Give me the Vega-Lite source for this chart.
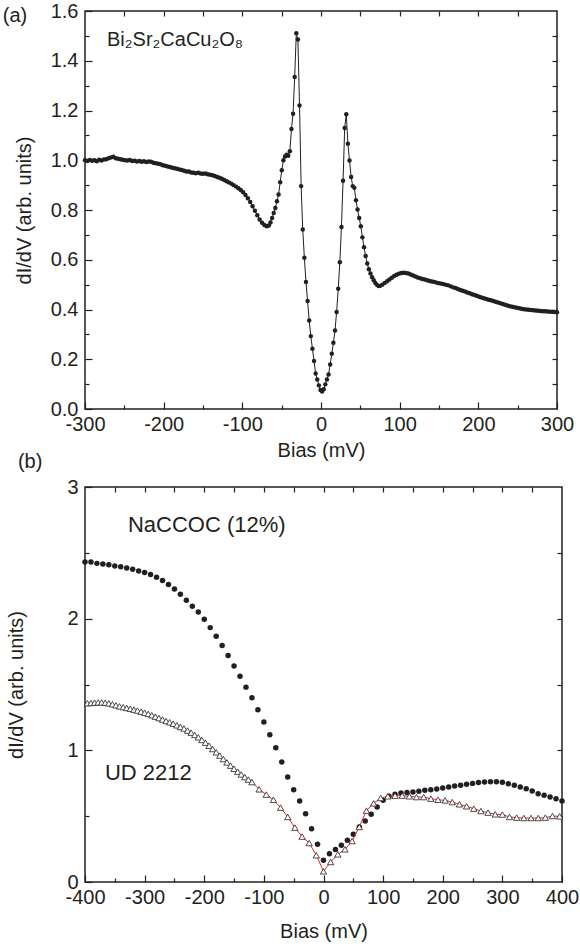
{
  "$schema": "https://vega.github.io/schema/vega-lite/v6.json",
  "background": "white",
  "padding": {"left": 2, "top": 0, "right": 5, "bottom": 0},
  "spacing": -10,
  "config": {
    "font": "Liberation Sans",
    "view": {"stroke": "#231f20", "strokeWidth": 1.5},
    "axis": {"grid": false, "domain": false, "tickColor": "#231f20", "labelColor": "#231f20", "titleColor": "#231f20", "labelFontSize": 20, "titleFontSize": 20, "titleFontWeight": "normal", "labelFlush": false, "labelOverlap": false, "tickWidth": 1.2, "labelExpr": "replace(datum.label, '−', '-')"}
  },
  "datasets": {
    "bscco": [
      {"v":-300,"g":1.000},{"v":-297,"g":0.997},{"v":-294,"g":1.001},{"v":-291,"g":0.998},{"v":-288,"g":1.000},{"v":-285,"g":0.996},{"v":-282,"g":1.002},{"v":-279,"g":0.999},{"v":-276,"g":1.003},{"v":-273,"g":1.004},{"v":-270,"g":1.008},{"v":-267,"g":1.011},{"v":-264,"g":1.014},{"v":-261,"g":1.008},{"v":-258,"g":1.006},{"v":-255,"g":1.004},{"v":-252,"g":1.002},{"v":-249,"g":1.000},{"v":-246,"g":0.999},{"v":-243,"g":1.001},{"v":-240,"g":0.997},{"v":-237,"g":0.998},{"v":-234,"g":0.995},{"v":-231,"g":0.997},{"v":-228,"g":0.994},{"v":-225,"g":0.996},{"v":-222,"g":0.993},{"v":-219,"g":0.995},{"v":-216,"g":0.994},{"v":-213,"g":0.990},{"v":-210,"g":0.988},{"v":-207,"g":0.986},{"v":-204,"g":0.984},{"v":-201,"g":0.980},{"v":-198,"g":0.978},{"v":-195,"g":0.975},{"v":-192,"g":0.973},{"v":-189,"g":0.970},{"v":-186,"g":0.968},{"v":-183,"g":0.966},{"v":-180,"g":0.963},{"v":-177,"g":0.961},{"v":-174,"g":0.958},{"v":-171,"g":0.955},{"v":-168,"g":0.955},{"v":-165,"g":0.951},{"v":-162,"g":0.950},{"v":-159,"g":0.948},{"v":-156,"g":0.950},{"v":-153,"g":0.947},{"v":-150,"g":0.946},{"v":-147,"g":0.947},{"v":-144,"g":0.944},{"v":-141,"g":0.942},{"v":-138,"g":0.940},{"v":-135,"g":0.937},{"v":-132,"g":0.933},{"v":-129,"g":0.930},{"v":-126,"g":0.926},{"v":-123,"g":0.921},{"v":-120,"g":0.916},{"v":-117,"g":0.911},{"v":-114,"g":0.906},{"v":-111,"g":0.900},{"v":-108,"g":0.894},{"v":-105,"g":0.887},{"v":-102,"g":0.880},{"v":-99,"g":0.871},{"v":-96,"g":0.860},{"v":-93,"g":0.847},{"v":-90,"g":0.832},{"v":-87,"g":0.815},{"v":-84,"g":0.797},{"v":-81,"g":0.779},{"v":-78,"g":0.762},{"v":-75,"g":0.749},{"v":-72,"g":0.740},{"v":-69,"g":0.735},
      {"v":-66.25,"g":0.738},{"v":-64.2,"g":0.750},{"v":-62.15,"g":0.768},{"v":-60.1,"g":0.788},{"v":-58.05,"g":0.808},{"v":-56,"g":0.835},{"v":-53.95,"g":0.862},{"v":-51.9,"g":0.912},{"v":-49.85,"g":0.960},{"v":-47.8,"g":1.000},{"v":-45.75,"g":1.015},{"v":-43.7,"g":1.022},{"v":-41.65,"g":1.018},{"v":-39.6,"g":1.036},{"v":-37.55,"g":1.126},{"v":-35.5,"g":1.187},{"v":-33.45,"g":1.335},{"v":-31.4,"g":1.511},{"v":-29.35,"g":1.485},{"v":-27.3,"g":1.220},{"v":-25.25,"g":0.896},{"v":-23.2,"g":0.722},{"v":-21.15,"g":0.608},{"v":-19.1,"g":0.511},{"v":-17.05,"g":0.434},{"v":-15,"g":0.356},{"v":-12.95,"g":0.293},{"v":-10.9,"g":0.242},{"v":-8.85,"g":0.193},{"v":-6.8,"g":0.143},{"v":-4.75,"g":0.119},{"v":-2.7,"g":0.095},{"v":-0.65,"g":0.076},{"v":1.4,"g":0.070},{"v":3.45,"g":0.079},{"v":5.5,"g":0.099},{"v":7.55,"g":0.119},{"v":9.6,"g":0.139},{"v":11.65,"g":0.179},{"v":13.7,"g":0.222},{"v":15.75,"g":0.266},{"v":17.8,"g":0.316},{"v":19.85,"g":0.390},{"v":21.9,"g":0.483},{"v":23.95,"g":0.590},{"v":26,"g":0.732},{"v":28.05,"g":0.918},{"v":30.1,"g":1.130},{"v":32.15,"g":1.185},{"v":34.2,"g":1.066},{"v":36.25,"g":0.999},{"v":38.3,"g":0.933},{"v":40.35,"g":0.896},{"v":42.4,"g":0.889},{"v":44.45,"g":0.839},{"v":46.5,"g":0.802},{"v":48.55,"g":0.768},{"v":50.6,"g":0.735},{"v":52.65,"g":0.690},{"v":54.7,"g":0.650},{"v":56.75,"g":0.615},{"v":58.8,"g":0.585},{"v":60.85,"g":0.562},{"v":62.9,"g":0.545},{"v":64.95,"g":0.530},{"v":67,"g":0.518},{"v":69.05,"g":0.507},{"v":71.1,"g":0.499},{"v":73.15,"g":0.494},{"v":75.2,"g":0.495},
      {"v":78,"g":0.500},{"v":81,"g":0.507},{"v":84,"g":0.514},{"v":87,"g":0.521},{"v":90,"g":0.528},{"v":93,"g":0.535},{"v":96,"g":0.540},{"v":99,"g":0.544},{"v":102,"g":0.547},{"v":105,"g":0.548},{"v":108,"g":0.547},{"v":111,"g":0.545},{"v":114,"g":0.541},{"v":117,"g":0.537},{"v":120,"g":0.533},{"v":123,"g":0.529},{"v":126,"g":0.526},{"v":129,"g":0.523},{"v":132,"g":0.521},{"v":135,"g":0.518},{"v":138,"g":0.515},{"v":141,"g":0.513},{"v":144,"g":0.511},{"v":147,"g":0.508},{"v":150,"g":0.506},{"v":153,"g":0.504},{"v":156,"g":0.502},{"v":159,"g":0.499},{"v":162,"g":0.497},{"v":165,"g":0.493},{"v":168,"g":0.489},{"v":171,"g":0.486},{"v":174,"g":0.482},{"v":177,"g":0.478},{"v":180,"g":0.475},{"v":183,"g":0.472},{"v":186,"g":0.468},{"v":189,"g":0.465},{"v":192,"g":0.461},{"v":195,"g":0.458},{"v":198,"g":0.455},{"v":201,"g":0.451},{"v":204,"g":0.448},{"v":207,"g":0.445},{"v":210,"g":0.442},{"v":213,"g":0.439},{"v":216,"g":0.437},{"v":219,"g":0.434},{"v":222,"g":0.431},{"v":225,"g":0.428},{"v":228,"g":0.425},{"v":231,"g":0.422},{"v":234,"g":0.419},{"v":237,"g":0.416},{"v":240,"g":0.413},{"v":243,"g":0.411},{"v":246,"g":0.409},{"v":249,"g":0.407},{"v":252,"g":0.405},{"v":255,"g":0.403},{"v":258,"g":0.401},{"v":261,"g":0.400},{"v":264,"g":0.399},{"v":267,"g":0.398},{"v":270,"g":0.397},{"v":273,"g":0.396},{"v":276,"g":0.395},{"v":279,"g":0.394},{"v":282,"g":0.393},{"v":285,"g":0.393},{"v":288,"g":0.392},{"v":291,"g":0.391},{"v":294,"g":0.391},{"v":297,"g":0.390},{"v":300,"g":0.389}
    ],
    "naccoc": [
      {"v":-400,"g":2.43},{"v":-390,"g":2.43},{"v":-380,"g":2.42},{"v":-370,"g":2.415},{"v":-360,"g":2.41},{"v":-350,"g":2.40},{"v":-340,"g":2.395},{"v":-330,"g":2.385},{"v":-320,"g":2.375},{"v":-310,"g":2.362},{"v":-300,"g":2.35},{"v":-290,"g":2.336},{"v":-280,"g":2.315},{"v":-270,"g":2.29},{"v":-260,"g":2.26},{"v":-250,"g":2.225},{"v":-240,"g":2.185},{"v":-230,"g":2.14},{"v":-220,"g":2.095},{"v":-210,"g":2.05},{"v":-200,"g":1.995},{"v":-190,"g":1.932},{"v":-180,"g":1.866},{"v":-170,"g":1.797},{"v":-160,"g":1.721},{"v":-150,"g":1.64},{"v":-140,"g":1.562},{"v":-130,"g":1.48},{"v":-120,"g":1.40},{"v":-110,"g":1.309},{"v":-100,"g":1.215},{"v":-90,"g":1.119},{"v":-80,"g":1.02},{"v":-70,"g":0.911},{"v":-60,"g":0.797},{"v":-50,"g":0.70},{"v":-40,"g":0.615},{"v":-30,"g":0.519},{"v":-20,"g":0.405},{"v":-10,"g":0.286},{"v":0,"g":0.165},{"v":10,"g":0.215},{"v":20,"g":0.246},{"v":30,"g":0.279},{"v":40,"g":0.317},{"v":50,"g":0.362},{"v":60,"g":0.418},{"v":70,"g":0.464},{"v":80,"g":0.514},{"v":90,"g":0.57},{"v":100,"g":0.62},{"v":110,"g":0.651},{"v":120,"g":0.666},{"v":130,"g":0.676},{"v":140,"g":0.679},{"v":150,"g":0.683},{"v":160,"g":0.689},{"v":170,"g":0.696},{"v":180,"g":0.70},{"v":190,"g":0.706},{"v":200,"g":0.714},{"v":210,"g":0.721},{"v":220,"g":0.729},{"v":230,"g":0.734},{"v":240,"g":0.742},{"v":250,"g":0.749},{"v":260,"g":0.755},{"v":270,"g":0.759},{"v":280,"g":0.762},{"v":290,"g":0.762},{"v":300,"g":0.757},{"v":310,"g":0.747},{"v":320,"g":0.734},{"v":330,"g":0.721},{"v":340,"g":0.709},{"v":350,"g":0.691},{"v":360,"g":0.671},{"v":370,"g":0.658},{"v":380,"g":0.645},{"v":390,"g":0.633},{"v":400,"g":0.615}
    ],
    "ud2212": [
      {"v":-396,"g":1.358},{"v":-390,"g":1.360},{"v":-384,"g":1.362},{"v":-378,"g":1.364},{"v":-372,"g":1.364},{"v":-366,"g":1.362},{"v":-360,"g":1.357},{"v":-354,"g":1.350},{"v":-348,"g":1.342},{"v":-342,"g":1.334},{"v":-336,"g":1.328},{"v":-330,"g":1.322},{"v":-324,"g":1.316},{"v":-318,"g":1.309},{"v":-312,"g":1.302},{"v":-306,"g":1.294},{"v":-300,"g":1.286},{"v":-294,"g":1.277},{"v":-288,"g":1.267},{"v":-282,"g":1.256},{"v":-276,"g":1.245},{"v":-270,"g":1.234},{"v":-264,"g":1.223},{"v":-258,"g":1.213},{"v":-252,"g":1.202},{"v":-246,"g":1.190},{"v":-240,"g":1.178},{"v":-234,"g":1.166},{"v":-228,"g":1.150},{"v":-222,"g":1.134},{"v":-216,"g":1.117},{"v":-210,"g":1.099},{"v":-204,"g":1.079},{"v":-198,"g":1.058},{"v":-192,"g":1.035},{"v":-186,"g":1.010},{"v":-180,"g":0.985},{"v":-174,"g":0.960},{"v":-168,"g":0.934},{"v":-162,"g":0.908},{"v":-156,"g":0.884},{"v":-150,"g":0.860},{"v":-144,"g":0.838},{"v":-138,"g":0.817},{"v":-132,"g":0.797},{"v":-126,"g":0.778},
      {"v":-120,"g":0.759},{"v":-108,"g":0.704},{"v":-96,"g":0.664},{"v":-84,"g":0.625},{"v":-72,"g":0.565},{"v":-60,"g":0.494},{"v":-48,"g":0.413},{"v":-36,"g":0.345},{"v":-24,"g":0.296},{"v":-12,"g":0.203},{"v":0,"g":0.081},{"v":12,"g":0.152},{"v":24,"g":0.21},{"v":36,"g":0.248},{"v":48,"g":0.311},{"v":60,"g":0.418},{"v":72,"g":0.542},{"v":84,"g":0.597},{"v":96,"g":0.638},{"v":108,"g":0.651},{"v":120,"g":0.656},{"v":132,"g":0.656},{"v":144,"g":0.651},{"v":156,"g":0.645},{"v":168,"g":0.645},{"v":180,"g":0.633},{"v":192,"g":0.625},{"v":204,"g":0.62},{"v":216,"g":0.607},{"v":228,"g":0.59},{"v":240,"g":0.575},{"v":252,"g":0.557},{"v":264,"g":0.539},{"v":276,"g":0.527},{"v":288,"g":0.514},{"v":300,"g":0.512},{"v":312,"g":0.494},{"v":324,"g":0.489},{"v":336,"g":0.486},{"v":348,"g":0.486},{"v":360,"g":0.486},{"v":372,"g":0.489},{"v":384,"g":0.501},{"v":396,"g":0.499}
    ]
  },
  "vconcat": [
    {
      "width": 472,
      "height": 398,
      "data": {"name": "bscco"},
      "resolve": {"axis": {"x": "independent", "y": "independent"}},
      "layer": [
        {
          "mark": {"type": "line", "color": "#231f20", "strokeWidth": 1},
          "encoding": {
            "x": {"field": "v", "type": "quantitative", "scale": {"domain": [-300, 300], "nice": false},
              "axis": {"orient": "bottom", "values": [-300,-200,-100,0,100,200,300], "tickSize": -7, "labelPadding": 12, "title": "Bias (mV)", "titlePadding": 6}},
            "y": {"field": "g", "type": "quantitative", "scale": {"domain": [0, 1.6], "nice": false, "zero": false},
              "axis": {"orient": "left", "values": [0,0.2,0.4,0.6,0.8,1.0,1.2,1.4,1.6], "format": ".1f", "tickSize": -7, "labelPadding": 14, "title": "dI/dV (arb. units)", "titlePadding": 16}}
          }
        },
        {
          "mark": {"type": "point", "filled": true, "size": 20, "color": "#231f20", "opacity": 1},
          "encoding": {
            "x": {"field": "v", "type": "quantitative", "scale": {"domain": [-300, 300], "nice": false},
              "axis": {"orient": "bottom", "values": [-250,-150,-50,50,150,250], "tickSize": -4, "labels": false, "title": null}},
            "y": {"field": "g", "type": "quantitative", "scale": {"domain": [0, 1.6], "nice": false, "zero": false},
              "axis": {"orient": "left", "values": [0.1,0.3,0.5,0.7,0.9,1.1,1.3,1.5], "tickSize": -4, "labels": false, "title": null}}
          }
        },
        {
          "mark": {"type": "point", "opacity": 0},
          "encoding": {
            "x": {"field": "v", "type": "quantitative", "scale": {"domain": [-300, 300], "nice": false},
              "axis": {"orient": "top", "values": [-250,-200,-150,-100,-50,0,50,100,150,200,250], "tickSize": -5, "labels": false, "title": null}},
            "y": {"field": "g", "type": "quantitative", "scale": {"domain": [0, 1.6], "nice": false, "zero": false},
              "axis": {"orient": "right", "values": [0.1,0.2,0.3,0.4,0.5,0.6,0.7,0.8,0.9,1.0,1.1,1.2,1.3,1.4,1.5], "tickSize": -5, "labels": false, "title": null}}
          }
        },
        {
          "data": {"values": [{"v": -272, "g": 1.458, "t": "Bi₂Sr₂CaCu₂O₈"}]},
          "mark": {"type": "text", "align": "left", "baseline": "alphabetic", "fontSize": 20, "color": "#231f20"},
          "encoding": {
            "x": {"field": "v", "type": "quantitative", "axis": null},
            "y": {"field": "g", "type": "quantitative", "axis": null},
            "text": {"field": "t"}
          }
        },
        {
          "data": {"values": [{"v": -389, "g": 1.578, "t": "(a)"}]},
          "mark": {"type": "text", "align": "center", "baseline": "middle", "fontSize": 20, "color": "#231f20"},
          "encoding": {
            "x": {"field": "v", "type": "quantitative", "axis": null},
            "y": {"field": "g", "type": "quantitative", "axis": null},
            "text": {"field": "t"}
          }
        }
      ]
    },
    {
      "width": 477,
      "height": 395,
      "resolve": {"axis": {"x": "independent", "y": "independent"}},
      "layer": [
        {
          "data": {"name": "naccoc"},
          "mark": {"type": "point", "filled": true, "size": 30, "color": "#231f20", "opacity": 1},
          "encoding": {
            "x": {"field": "v", "type": "quantitative", "scale": {"domain": [-400, 400], "nice": false},
              "axis": {"orient": "bottom", "values": [-400,-300,-200,-100,0,100,200,300,400], "tickSize": -7, "labelPadding": 12, "title": "Bias (mV)", "titlePadding": 14}},
            "y": {"field": "g", "type": "quantitative", "scale": {"domain": [0, 3], "nice": false, "zero": false},
              "axis": {"orient": "left", "values": [0,1,2,3], "format": "d", "tickSize": -7, "labelPadding": 14, "title": "dI/dV (arb. units)", "titlePadding": 40}}
          }
        },
        {
          "data": {"name": "ud2212"},
          "transform": [{"filter": "datum.v >= -126"}],
          "mark": {"type": "line", "color": "#e8262a", "strokeWidth": 1},
          "encoding": {
            "x": {"field": "v", "type": "quantitative", "scale": {"domain": [-400, 400], "nice": false},
              "axis": {"orient": "top", "values": [-350,-300,-250,-200,-150,-100,-50,0,50,100,150,200,250,300,350], "tickSize": -5, "labels": false, "title": null}},
            "y": {"field": "g", "type": "quantitative", "scale": {"domain": [0, 3], "nice": false, "zero": false},
              "axis": {"orient": "right", "values": [0.5,1,1.5,2,2.5], "tickSize": -5, "labels": false, "title": null}}
          }
        },
        {
          "data": {"name": "ud2212"},
          "mark": {"type": "point", "shape": "triangle-up", "filled": true, "fill": "white", "stroke": "#231f20", "strokeWidth": 0.8, "size": 40, "opacity": 1},
          "encoding": {
            "x": {"field": "v", "type": "quantitative", "scale": {"domain": [-400, 400], "nice": false},
              "axis": {"orient": "bottom", "values": [-350,-250,-150,-50,50,150,250,350], "tickSize": -4, "labels": false, "title": null}},
            "y": {"field": "g", "type": "quantitative", "scale": {"domain": [0, 3], "nice": false, "zero": false},
              "axis": {"orient": "left", "values": [0.5,1.5,2.5], "tickSize": -4, "labels": false, "title": null}}
          }
        },
        {
          "data": {"values": [{"v": -328, "g": 2.655, "t": "NaCCOC (12%)"}, {"v": -366.6, "g": 0.772, "t": "UD 2212"}]},
          "mark": {"type": "text", "align": "left", "baseline": "alphabetic", "fontSize": 22, "color": "#231f20"},
          "encoding": {
            "x": {"field": "v", "type": "quantitative", "axis": null},
            "y": {"field": "g", "type": "quantitative", "axis": null},
            "text": {"field": "t"}
          }
        },
        {
          "data": {"values": [{"v": -492, "g": 3.187, "t": "(b)"}]},
          "mark": {"type": "text", "align": "center", "baseline": "middle", "fontSize": 20, "color": "#231f20"},
          "encoding": {
            "x": {"field": "v", "type": "quantitative", "axis": null},
            "y": {"field": "g", "type": "quantitative", "axis": null},
            "text": {"field": "t"}
          }
        }
      ]
    }
  ]
}
